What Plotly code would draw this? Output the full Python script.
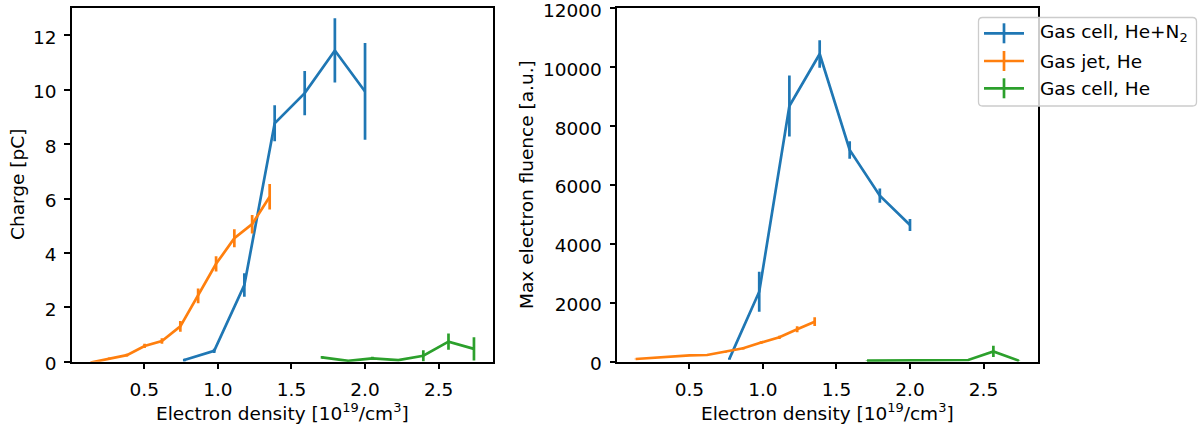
import plotly.graph_objects as go

# Electron density [1e19 / cm^3] and measured quantities for each target
cell_n2_density = [0.772, 0.975, 1.18, 1.386, 1.59, 1.795, 2.0]
cell_n2_charge = [0.06, 0.40, 2.82, 8.77, 9.88, 11.45, 9.94]
cell_n2_charge_err = [0.05, 0.08, 0.43, 0.66, 0.81, 1.18, 1.78]
cell_n2_fluence = [95, 2377, 8684, 10449, 7189, 5638, 4642]
cell_n2_fluence_err = [30, 680, 1036, 470, 294, 240, 200]

jet_density = [0.135, 0.262, 0.382, 0.502, 0.62, 0.745, 0.866, 0.988, 1.112, 1.233, 1.352]
jet_charge = [-0.03, 0.12, 0.24, 0.58, 0.76, 1.30, 2.42, 3.60, 4.54, 5.06, 6.07]
jet_charge_err = [0.02, 0.03, 0.05, 0.08, 0.1, 0.2, 0.27, 0.28, 0.33, 0.34, 0.47]
jet_fluence = [92, 140, 180, 217, 227, 330, 455, 650, 828, 1100, 1360]
jet_fluence_err = [10, 12, 15, 20, 22, 30, 40, 45, 55, 100, 150]

cell_he_density = [1.708, 1.886, 2.05, 2.226, 2.396, 2.567, 2.74]
cell_he_charge = [0.16, 0.03, 0.12, 0.06, 0.22, 0.74, 0.47]
cell_he_charge_err = [0.05, 0.03, 0.06, 0.03, 0.2, 0.3, 0.43]
cell_he_fluence = [34, 40, 45, 40, 58, 350, 34]
cell_he_fluence_err = [10, 10, 10, 10, 15, 190, 10]

series_names = ["Gas cell, He+N<sub>2</sub>", "Gas jet, He", "Gas cell, He"]
series_colors = ["#1f77b4", "#ff7f0e", "#2ca02c"]

x_ticks = [0.5, 1.0, 1.5, 2.0, 2.5]
charge_ticks = [0, 2, 4, 6, 8, 10, 12]
fluence_ticks = [0, 2000, 4000, 6000, 8000, 10000, 12000]

x_label = "Electron density [10<sup>19</sup>/cm<sup>3</sup>]"
charge_label = "Charge [pC]"
fluence_label = "Max electron fluence [a.u.]"

FONT = "DejaVu Sans"
FS = 18.5
LW = 2.7
W, H = 1198, 428

fig = go.Figure()

series = [
    (cell_n2_density, cell_n2_charge, cell_n2_charge_err, cell_n2_fluence, cell_n2_fluence_err),
    (jet_density, jet_charge, jet_charge_err, jet_fluence, jet_fluence_err),
    (cell_he_density, cell_he_charge, cell_he_charge_err, cell_he_fluence, cell_he_fluence_err),
]

for i, (x, q, qe, f, fe) in enumerate(series):
    c = series_colors[i]
    fig.add_trace(go.Scatter(
        x=x, y=q, mode="lines", line=dict(color=c, width=LW),
        error_y=dict(type="data", array=qe, color=c, thickness=LW, width=0),
        xaxis="x", yaxis="y", showlegend=False,
    ))
    fig.add_trace(go.Scatter(
        x=x, y=f, mode="lines", line=dict(color=c, width=LW),
        error_y=dict(type="data", array=fe, color=c, thickness=LW, width=0),
        xaxis="x2", yaxis="y2", showlegend=False,
    ))

axis_common = dict(
    showline=True, linecolor="black", linewidth=1.5, mirror=True,
    ticks="outside", ticklen=6, tickwidth=1.5, tickcolor="black",
    showgrid=False, zeroline=False, automargin=False,
    ticklabeloverflow="allow", ticklabelstandoff=4,
    tickfont=dict(family=FONT, size=FS, color="black"),
)

x_dom_left = [72 / W, 492.5 / W]
x_dom_right = [617.3 / W, 1037.5 / W]
y_dom = [(H - 361.7) / H, (H - 8.3) / H]

fig.update_layout(
    width=W, height=H,
    margin=dict(l=0, r=0, t=0, b=0),
    paper_bgcolor="white", plot_bgcolor="white",
    font=dict(family=FONT, size=FS, color="black"),
    showlegend=False,
    xaxis=dict(domain=x_dom_left, range=[0.009, 2.866], tickvals=x_ticks, tickformat=".1f",
               anchor="y", **axis_common),
    yaxis=dict(domain=y_dom, range=[0, 13.0], tickvals=charge_ticks,
               anchor="x", ticklabelshift=2, **axis_common),
    xaxis2=dict(domain=x_dom_right, range=[0.01, 2.867], tickvals=x_ticks, tickformat=".1f",
                anchor="y2", **axis_common),
    yaxis2=dict(domain=y_dom, range=[0, 12000], tickvals=fluence_ticks, tickformat="d",
                anchor="x2", ticklabelshift=2, **axis_common),
)

# axis titles
title_font = dict(family=FONT, size=FS, color="black")
for xc in (sum(x_dom_left) / 2, sum(x_dom_right) / 2):
    fig.add_annotation(text=x_label, xref="paper", yref="paper", x=xc, y=(H - 411.5) / H,
                       xanchor="center", yanchor="middle", showarrow=False, font=title_font)
fig.add_annotation(text=charge_label, xref="paper", yref="paper", x=18 / W, y=sum(y_dom) / 2,
                   textangle=-90, xanchor="center", yanchor="middle", showarrow=False, font=title_font)
fig.add_annotation(text=fluence_label, xref="paper", yref="paper", x=527 / W, y=sum(y_dom) / 2,
                   textangle=-90, xanchor="center", yanchor="middle", showarrow=False, font=title_font)

# legend box (pixel layout converted to paper coordinates)
def px(x):
    return x / W

def py(y):
    return (H - y) / H

bx0, bx1, by0, by1, r = 978.5, 1196.5, 17.5, 106.0, 4
box_path = (
    f"M{px(bx0 + r)},{py(by0)} L{px(bx1 - r)},{py(by0)} Q{px(bx1)},{py(by0)} {px(bx1)},{py(by0 + r)} "
    f"L{px(bx1)},{py(by1 - r)} Q{px(bx1)},{py(by1)} {px(bx1 - r)},{py(by1)} "
    f"L{px(bx0 + r)},{py(by1)} Q{px(bx0)},{py(by1)} {px(bx0)},{py(by1 - r)} "
    f"L{px(bx0)},{py(by0 + r)} Q{px(bx0)},{py(by0)} {px(bx0 + r)},{py(by0)} Z"
)
fig.add_shape(type="path", path=box_path, xref="paper", yref="paper", layer="above",
              fillcolor="rgba(255,255,255,0.8)", line=dict(color="#cccccc", width=1.3))

row_y = [33.3, 61.0, 88.3]
for i, name in enumerate(series_names):
    c = series_colors[i]
    yy = row_y[i]
    fig.add_shape(type="line", xref="paper", yref="paper", layer="above",
                  x0=px(984), x1=px(1024), y0=py(yy), y1=py(yy), line=dict(color=c, width=LW))
    fig.add_shape(type="line", xref="paper", yref="paper", layer="above",
                  x0=px(1004), x1=px(1004), y0=py(yy - 10), y1=py(yy + 10), line=dict(color=c, width=LW))
    fig.add_annotation(text=name, xref="paper", yref="paper", x=px(1038), y=py(yy),
                       xanchor="left", yanchor="middle", showarrow=False, font=title_font)

fig.write_html("out.html")
